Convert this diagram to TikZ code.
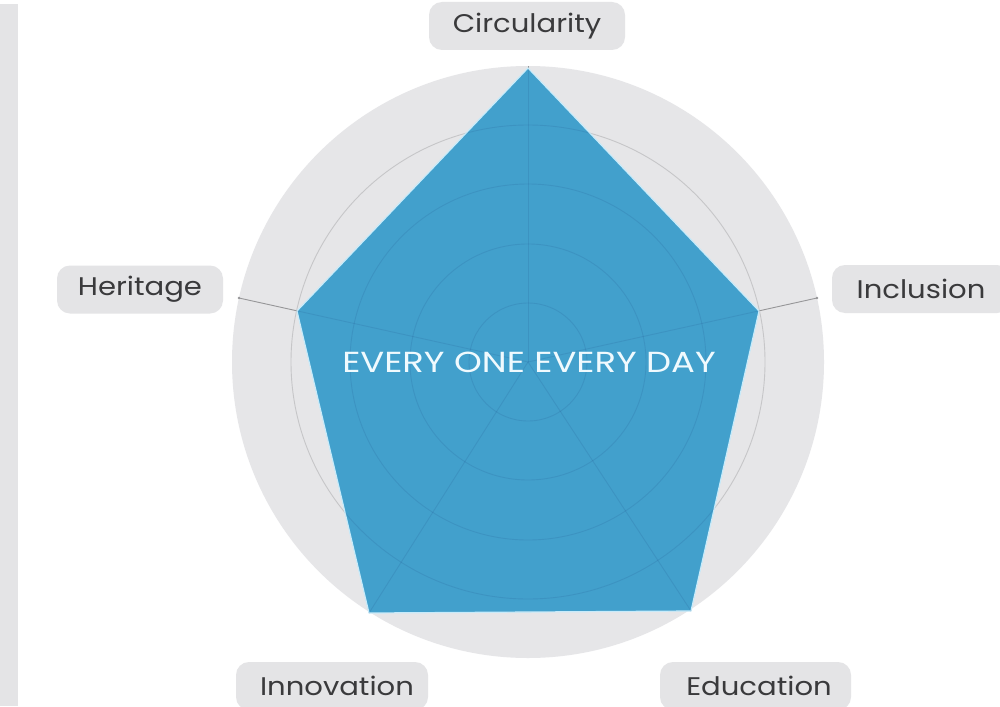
\documentclass[tikz,border=0pt]{standalone}
\usepackage{fontspec}
\setmainfont{Poppins}
\definecolor{diskgrey}{RGB}{230,230,232}
\definecolor{labgrey}{RGB}{228,228,230}
\definecolor{ringgrey}{RGB}{198,198,200}
\definecolor{spokegrey}{RGB}{150,150,152}
\definecolor{labtext}{RGB}{58,58,60}
\definecolor{pentblue}{RGB}{66,160,204}
\definecolor{pentedge}{RGB}{200,235,250}
\newcommand{\wide}[2]{\scalebox{#1}[1]{#2}}
\tikzset{
  lab/.style={fill=labgrey, rounded corners=13pt, text=labtext,
    font=\fontsize{25.5}{25.5}\selectfont, minimum height=48pt, inner sep=0pt},
  ring/.style={draw=ringgrey, line width=0.9pt},
  spoke/.style={draw=spokegrey, line width=0.9pt},
  faint/.style={draw=black!70!blue, opacity=0.08, line width=0.9pt},
}
\begin{document}
\begin{tikzpicture}[x=1pt,y=-1pt]
\useasboundingbox (0,0) rectangle (1000,706);
\fill[white] (0,0) rectangle (1000,706);
% left bar
\fill[labgrey] (0,4) rectangle (18,706);
% disk
\coordinate (c) at (528,362);
\fill[diskgrey] (c) circle[radius=296];
% rings
\foreach \r in {59,118,178,237} \draw[ring] (c) circle[radius=\r];
% spoke ends
\coordinate (sT) at (528,66);
\coordinate (sR) at (817,298);
\coordinate (sL) at (239,298);
\coordinate (sBL) at (369,613);
\coordinate (sBR) at (691,611);
\foreach \p in {sT,sR,sL,sBL,sBR} \draw[spoke] (c) -- (\p);
\fill[spokegrey] (sR) circle[radius=1.3];
\fill[spokegrey] (sL) circle[radius=1.3];
% pentagon vertices
\coordinate (vT) at (528,68);
\coordinate (vR) at (759,311);
\coordinate (vBR) at (691,611);
\coordinate (vBL) at (369,613);
\coordinate (vL) at (297,311);
\filldraw[fill=pentblue, draw=pentedge, line width=1.2pt, line join=round]
  (vT) -- (vR) -- (vBR) -- (vBL) -- (vL) -- cycle;
% grid showing faintly through the pentagon
\begin{scope}
\clip (vT) -- (vR) -- (vBR) -- (vBL) -- (vL) -- cycle;
\foreach \r in {59,118,178,237} \draw[faint] (c) circle[radius=\r];
\foreach \p in {sT,sR,sL,sBL,sBR} \draw[faint] (c) -- (\p);
\end{scope}
\node[text=white!94!cyan, font=\fontsize{29}{29}\selectfont] (title) at (529,362) {\wide{1.22}{EVERY ONE EVERY DAY}};
% labels
\node[lab, minimum width=196pt] (circ) at (527,26) {\wide{1.14}{Circularity}};
\node[lab, minimum width=166pt] (her) at (140,289.5) {\wide{1.14}{Heritage}};
\node[lab, minimum width=178pt] (inc) at (921,289) {\wide{1.14}{Inclusion}};
\node[lab, minimum width=192pt] (inn) at (332,686) {\hspace*{10pt}\wide{1.14}{Innovation}};
\node[lab, minimum width=191pt] (edu) at (755.5,686) {\hspace*{7pt}\wide{1.14}{Education}};
\end{tikzpicture}
\end{document}
